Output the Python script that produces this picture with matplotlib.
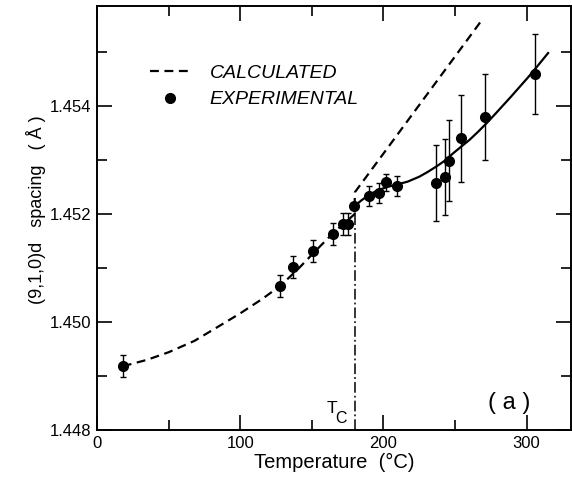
import matplotlib
matplotlib.use("Agg")
import matplotlib.pyplot as plt
from matplotlib.lines import Line2D
from matplotlib.ticker import MultipleLocator

plt.rcParams["font.family"] = ["Liberation Sans", "DejaVu Sans"]

# ── experimental points ───────────────────────────────────────────────────
temp_exp = [18, 128, 137, 151, 165, 172, 175, 179.5, 190, 197, 201.5, 209.5,
            237, 243, 246, 254.5, 271, 306]
d_exp = [1.44918, 1.45067, 1.45102, 1.45132, 1.45163, 1.45181, 1.45181,
         1.45215, 1.45233, 1.45239, 1.45259, 1.45252, 1.45257, 1.45268,
         1.45299, 1.45340, 1.45380, 1.45459]
d_err = [0.0002, 0.0002, 0.0002, 0.0002, 0.00021, 0.0002, 0.0002, 0.0,
         0.00018, 0.00018, 0.00016, 0.00018, 0.0007, 0.0007, 0.00075,
         0.0008, 0.0008, 0.00074]

# ── calculated curve (dashed) ─────────────────────────────────────────────
temp_calc = [18, 35, 50, 68, 85, 100, 115, 128, 140, 152, 165, 180, 180, 202, 269]
d_calc = [1.44918, 1.44930, 1.44944, 1.44965, 1.44992, 1.45016, 1.45042,
          1.45067, 1.45097, 1.45130, 1.45165, 1.45200, 1.45240, 1.45319, 1.45560]

# ── fit through experimental points above Tc (solid) ─────────────────────
temp_fit = [180, 185, 191, 197, 204, 210, 217, 225, 231, 237, 243, 248.5,
            254, 260, 266, 272, 278, 283.5, 289, 295, 301, 307, 315]
d_fit = [1.45215, 1.45226, 1.45237, 1.45245, 1.45251, 1.45255, 1.45260,
         1.45269, 1.45278, 1.45288, 1.45299, 1.45312, 1.45324, 1.45337,
         1.45352, 1.45368, 1.45385, 1.45401, 1.45417, 1.45435, 1.45453,
         1.45472, 1.45498]

T_C = 180
d_at_tc = 1.45214

fig = plt.figure(figsize=(5.72, 4.84), dpi=100)
ax = fig.add_axes([97 / 572, 54 / 484, 474 / 572, 424 / 484])

ax.plot(temp_calc, d_calc, color="black", lw=1.6, dashes=(4, 2.5))
ax.plot(temp_fit, d_fit, color="black", lw=1.6)
ax.errorbar(temp_exp, d_exp, yerr=d_err, fmt="o", color="black", ms=7,
            elinewidth=1.0, capsize=2.5, capthick=1.0)
ax.plot([T_C, T_C], [1.448, d_at_tc], color="black", lw=1.1,
        dashes=(7, 2, 1.2, 2))

ax.set_xlim(0, 331)
ax.set_ylim(1.448, 1.448 + 424 / 54000)
ax.xaxis.set_major_locator(MultipleLocator(100))
ax.xaxis.set_minor_locator(MultipleLocator(50))
ax.yaxis.set_major_locator(MultipleLocator(0.002))
ax.yaxis.set_minor_locator(MultipleLocator(0.001))
ax.yaxis.set_major_formatter(lambda v, _: f"{v:.3f}")
ax.tick_params(which="both", direction="in", top=True, right=True,
               width=1.2, labelsize=12)
ax.tick_params(which="major", length=11, pad=4)
ax.tick_params(which="minor", length=7)
for s in ax.spines.values():
    s.set_linewidth(1.4)

ax.set_xlabel("Temperature  (°C)", fontsize=14.5, labelpad=2)
ax.set_ylabel("(9,1,0)d   spacing   ( Å )", fontsize=13, labelpad=4)
ax.yaxis.set_label_coords(-0.108, 0.52)

ax.text(167.6, 1.448315, "T", fontsize=12.5, ha="right", va="baseline")
ax.text(166.5, 1.44813, "C", fontsize=11.5, ha="left", va="baseline")
ax.text(288, 1.4485, "( a )", fontsize=17, ha="center", va="center")

handles = [
    Line2D([], [], color="black", lw=1.6, dashes=(4, 2.5)),
    Line2D([], [], color="black", marker="o", ms=7, ls="none"),
]
ax.legend(handles, ["CALCULATED", "EXPERIMENTAL"], loc="upper left",
          bbox_to_anchor=(0.111, 0.862), frameon=False, handlelength=2.1,
          handletextpad=1.0, labelspacing=0.45, borderpad=0,
          borderaxespad=0, prop={"style": "italic", "size": 14})

fig.savefig("out.png", dpi=100)
